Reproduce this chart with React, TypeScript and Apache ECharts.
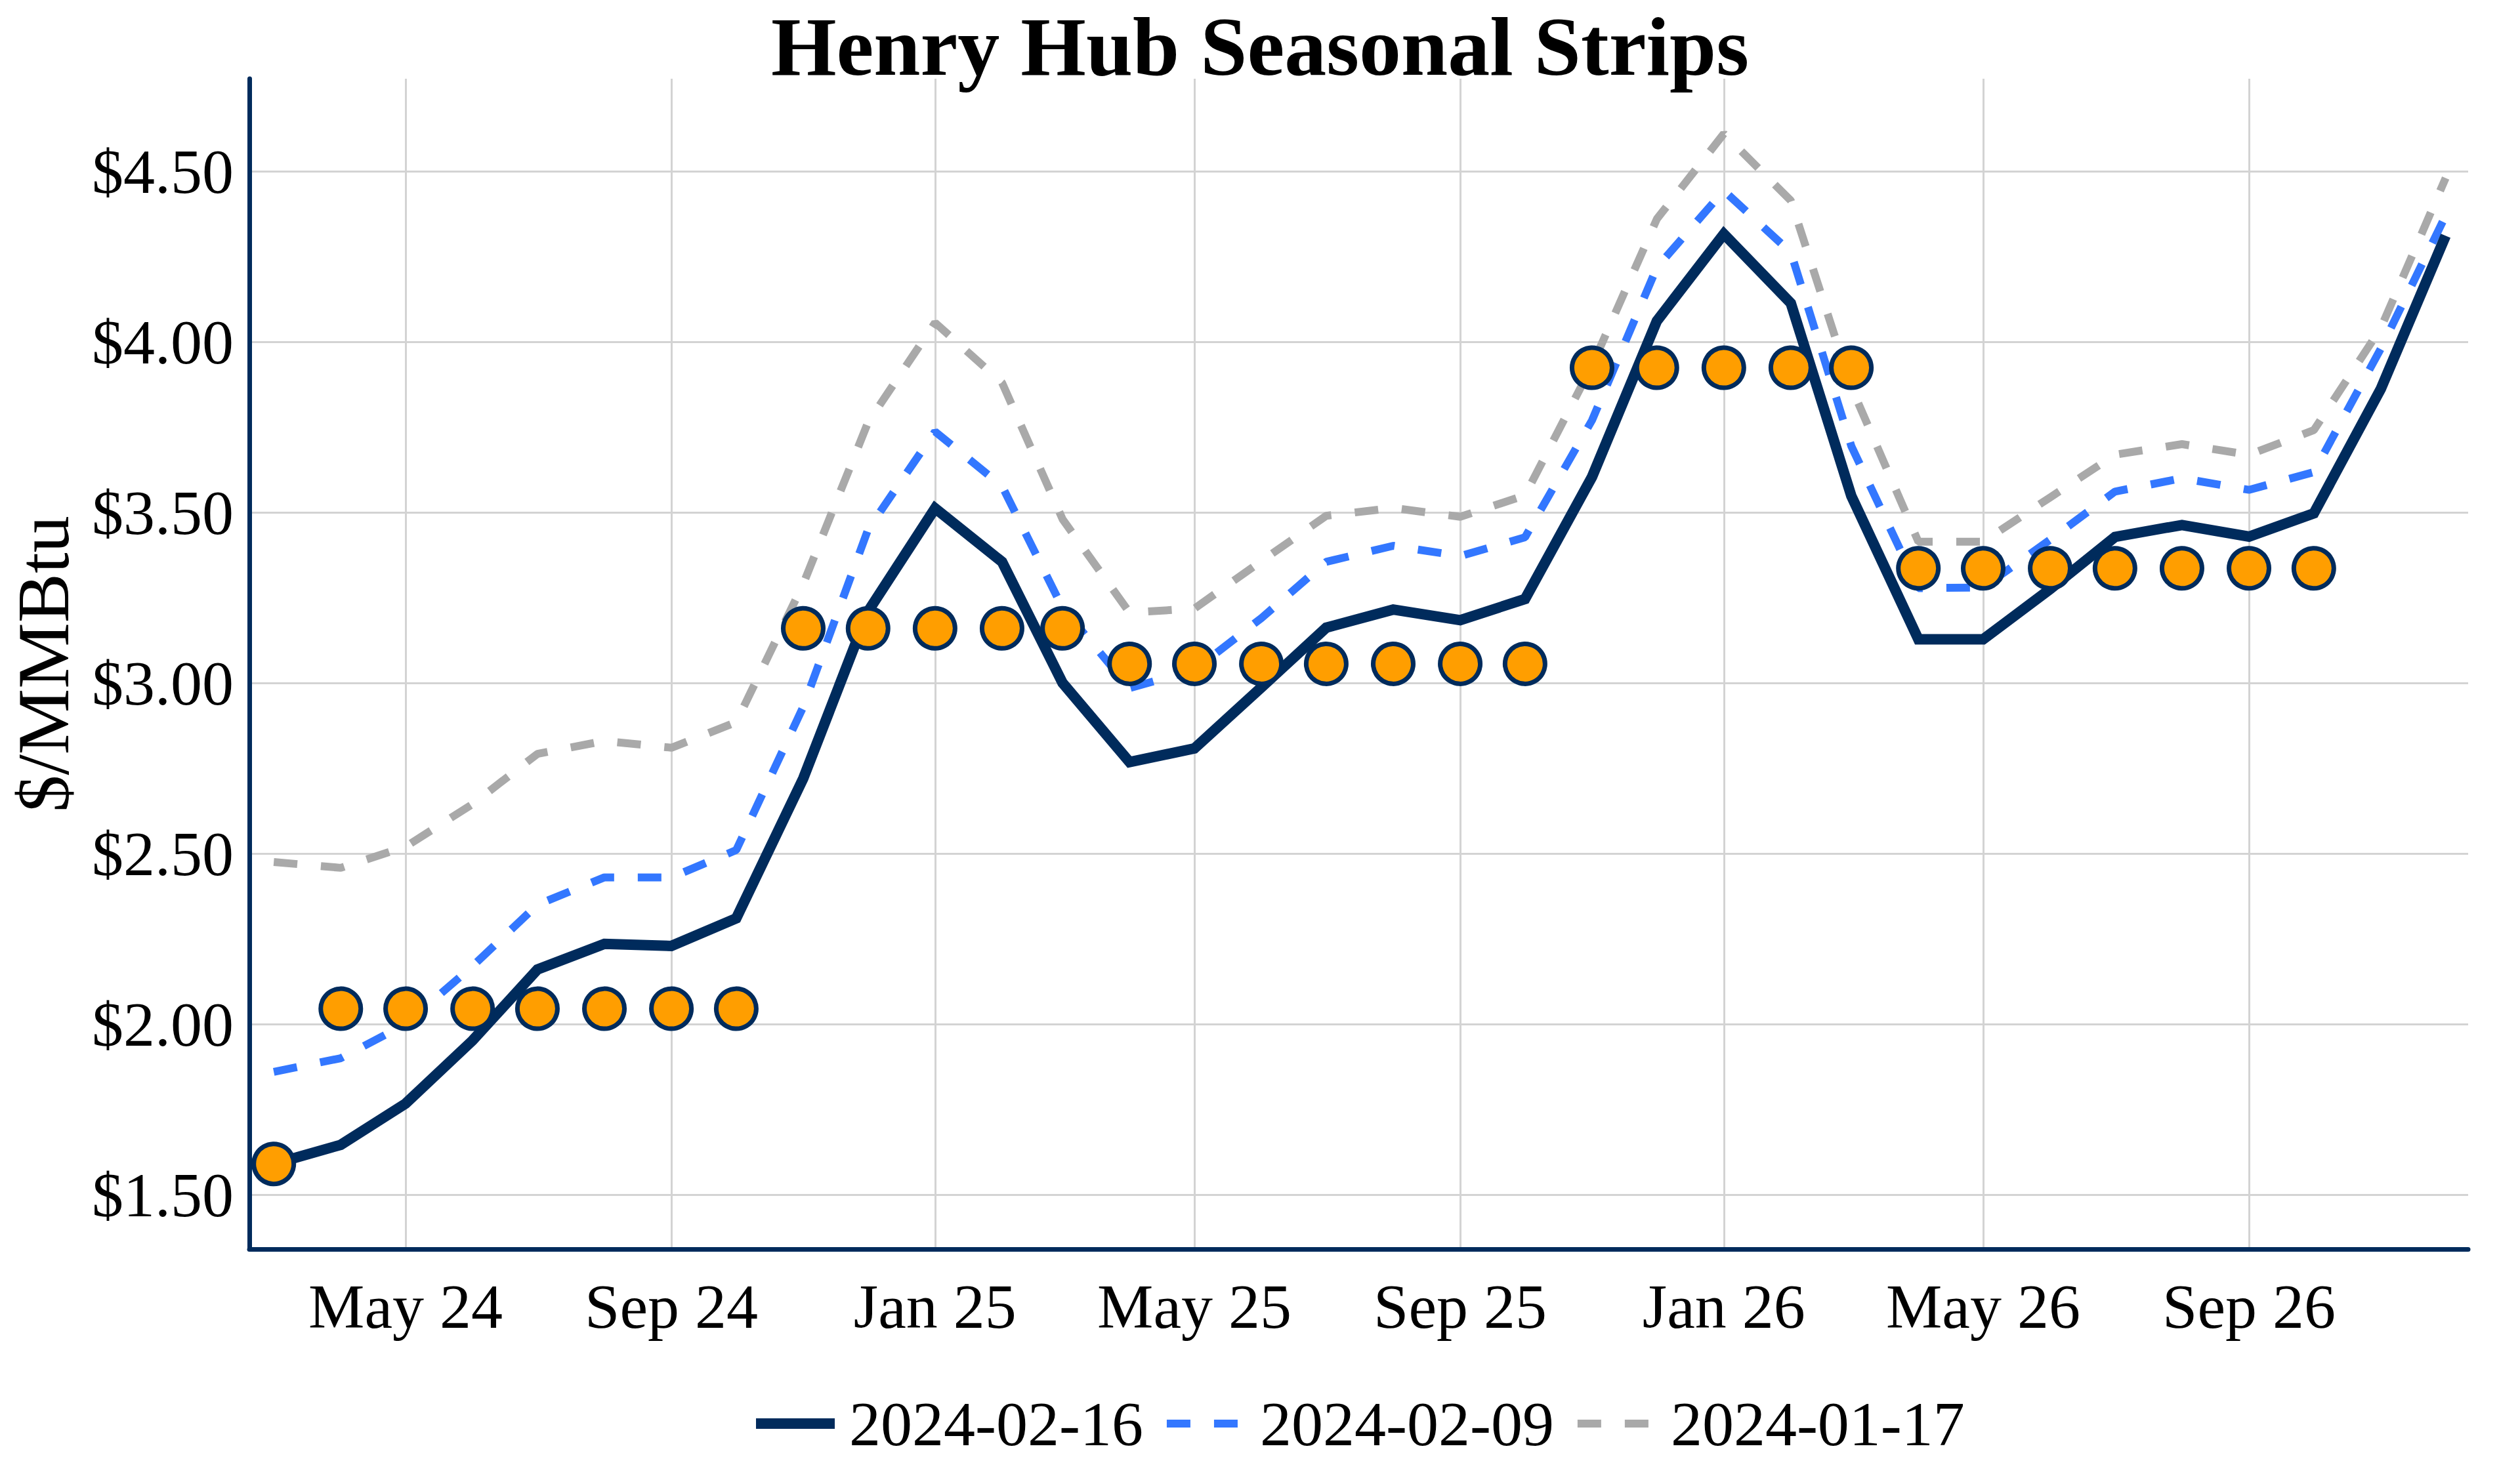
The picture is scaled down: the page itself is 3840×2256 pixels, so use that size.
import React, { useEffect, useRef } from "react";
import * as echarts from "echarts";

// Contract months (first of each month)
const months = [
  "2024-03", "2024-04", "2024-05", "2024-06", "2024-07", "2024-08", "2024-09", "2024-10", "2024-11", "2024-12",
  "2025-01", "2025-02", "2025-03", "2025-04", "2025-05", "2025-06", "2025-07", "2025-08", "2025-09", "2025-10", "2025-11", "2025-12",
  "2026-01", "2026-02", "2026-03", "2026-04", "2026-05", "2026-06", "2026-07", "2026-08", "2026-09", "2026-10", "2026-11", "2026-12",
];

const seriesNames = ["2024-02-16", "2024-02-09", "2024-01-17"];

// Forward curve as of 2024-02-16 ($/MMBtu)
const curve0216 = [
  1.59, 1.646, 1.767, 1.952, 2.16, 2.235, 2.229, 2.31, 2.72, 3.21,
  3.512, 3.355, 3.0, 2.768, 2.808, 2.987, 3.162, 3.215, 3.184, 3.246, 3.604, 4.061,
  4.316, 4.113, 3.548, 3.128, 3.128, 3.275, 3.428, 3.463, 3.429, 3.497, 3.862, 4.311,
];

// Forward curve as of 2024-02-09
const curve0209 = [
  1.86, 1.9, 2.0, 2.17, 2.35, 2.43, 2.43, 2.51, 2.93, 3.45,
  3.737, 3.577, 3.22, 2.985, 3.038, 3.19, 3.355, 3.402, 3.372, 3.427, 3.77, 4.218,
  4.443, 4.262, 3.694, 3.278, 3.28, 3.42, 3.561, 3.6, 3.566, 3.618, 3.98, 4.37,
];

// Forward curve as of 2024-01-17
const curve0117 = [
  2.475, 2.458, 2.52, 2.645, 2.792, 2.83, 2.81, 2.885, 3.29, 3.764,
  4.056, 3.88, 3.48, 3.206, 3.218, 3.357, 3.49, 3.513, 3.487, 3.55, 3.93, 4.36,
  4.61, 4.414, 3.867, 3.414, 3.414, 3.544, 3.669, 3.7, 3.669, 3.741, 4.04, 4.48,
];

// Seasonal strip values (Mar 24 .. Oct 26), one per month
const seasonalStrip = [
  1.59,
  2.045, 2.045, 2.045, 2.045, 2.045, 2.045, 2.045,
  3.16, 3.16, 3.16, 3.16, 3.16,
  3.056, 3.056, 3.056, 3.056, 3.056, 3.056, 3.056,
  3.924, 3.924, 3.924, 3.924, 3.924,
  3.336, 3.336, 3.336, 3.336, 3.336, 3.336, 3.336,
];

const xTickMonths = ["2024-05", "2024-09", "2025-01", "2025-05", "2025-09", "2026-01", "2026-05", "2026-09"];
const xTickLabels = ["May 24", "Sep 24", "Jan 25", "May 25", "Sep 25", "Jan 26", "May 26", "Sep 26"];
const yTicks = [1.5, 2.0, 2.5, 3.0, 3.5, 4.0, 4.5];

const NAVY = "#002B5C";
const BLUE = "#3377FF";
const GREY = "#A9A9A9";
const ORANGE = "#FF9E00";
const FONT = "Liberation Serif";

const toTime = (m: string) => {
  const [y, mo] = m.split("-").map(Number);
  return Date.UTC(y, mo - 1, 1);
};

export default function App() {
  const ref = useRef<HTMLDivElement>(null);

  useEffect(() => {
    if (!ref.current) return;
    const chart = echarts.init(ref.current, undefined, { renderer: "svg" });

    const xs = months.map(toTime);
    const xTicks = xTickMonths.map(toTime);
    const DAY = 86400000;
    const hiddenSymbol = { color: "rgba(0,0,0,0)", borderWidth: 0, opacity: 0 };

    const option: any = {
      animation: false,
      backgroundColor: "#ffffff",
      textStyle: { fontFamily: FONT },
      title: {
        text: "Henry Hub Seasonal Strips",
        left: "center",
        top: 24,
        padding: 0,
        textStyle: { fontFamily: FONT, fontWeight: "bold", fontSize: 128, lineHeight: 94, color: "#000000" },
      },
      legend: {
        data: [
          { name: seriesNames[0], lineStyle: { width: 16 }, itemStyle: hiddenSymbol },
          { name: seriesNames[1], lineStyle: { width: 12 }, itemStyle: hiddenSymbol },
          { name: seriesNames[2], lineStyle: { width: 12 }, itemStyle: hiddenSymbol },
        ],
        left: 1144,
        top: 2122,
        padding: 0,
        itemWidth: 120,
        itemHeight: 32,
        itemGap: 30,
        selectedMode: false,
        itemStyle: hiddenSymbol,
        textStyle: { fontFamily: FONT, fontSize: 96, color: "#000000", padding: [0, 0, 0, 17] },
      },
      grid: { left: 380, right: 79, top: 120, bottom: 352, containLabel: false, outerBoundsMode: "none" },
      xAxis: {
        type: "value",
        min: Date.UTC(2024, 1, 18, 17),
        max: Date.UTC(2026, 11, 11, 10),
        axisLine: { show: true, onZero: false, lineStyle: { color: NAVY, width: 7 } },
        axisTick: { show: false, customValues: xTicks },
        axisLabel: {
          customValues: xTicks,
          margin: 39,
          fontFamily: FONT,
          fontSize: 96,
          color: "#000000",
          formatter: (v: number) => {
            const i = xTicks.findIndex((t) => Math.abs(t - v) < DAY);
            return i >= 0 ? xTickLabels[i] : "";
          },
        },
        splitLine: { show: true, lineStyle: { color: "#D3D3D3", width: 3 } },
      },
      yAxis: {
        type: "value",
        min: 1.3404,
        max: 4.7712,
        name: "$/MMBtu",
        nameLocation: "middle",
        nameRotate: 90,
        nameGap: 258,
        nameTextStyle: { fontFamily: FONT, fontSize: 113, color: "#000000" },
        axisLine: { show: true, onZero: false, lineStyle: { color: NAVY, width: 7 } },
        axisTick: { show: false, customValues: yTicks },
        axisLabel: {
          customValues: yTicks,
          margin: 24,
          fontFamily: FONT,
          fontSize: 96,
          color: "#000000",
          formatter: (v: number) => "$" + v.toFixed(2),
        },
        splitLine: { show: true, lineStyle: { color: "#D3D3D3", width: 3 } },
      },
      series: [
        {
          name: seriesNames[0],
          type: "line",
          data: xs.map((x, i) => [x, curve0216[i]]),
          symbol: "none",
          showSymbol: false,
          z: 4,
          lineStyle: { color: NAVY, width: 16, type: "solid", join: "miter" },
          itemStyle: { color: NAVY },
        },
        {
          name: seriesNames[1],
          type: "line",
          data: xs.map((x, i) => [x, curve0209[i]]),
          symbol: "none",
          showSymbol: false,
          z: 3,
          lineStyle: { color: BLUE, width: 12, type: [36, 36] },
          itemStyle: { color: BLUE },
        },
        {
          name: seriesNames[2],
          type: "line",
          data: xs.map((x, i) => [x, curve0117[i]]),
          symbol: "none",
          showSymbol: false,
          z: 2,
          lineStyle: { color: GREY, width: 12, type: [36, 36] },
          itemStyle: { color: GREY },
        },
        {
          name: "Seasonal strip",
          type: "scatter",
          data: seasonalStrip.map((v, i) => [xs[i], v]),
          symbol: "circle",
          symbolSize: 61,
          z: 5,
          itemStyle: { color: ORANGE, borderColor: NAVY, borderWidth: 7, opacity: 1 },
        },
      ],
    };

    chart.setOption(option);
    return () => chart.dispose();
  }, []);

  return (
    <div
      ref={ref}
      style={{ position: "absolute", left: 0, top: 0, width: 3840, height: 2256, background: "#ffffff" }}
    />
  );
}
